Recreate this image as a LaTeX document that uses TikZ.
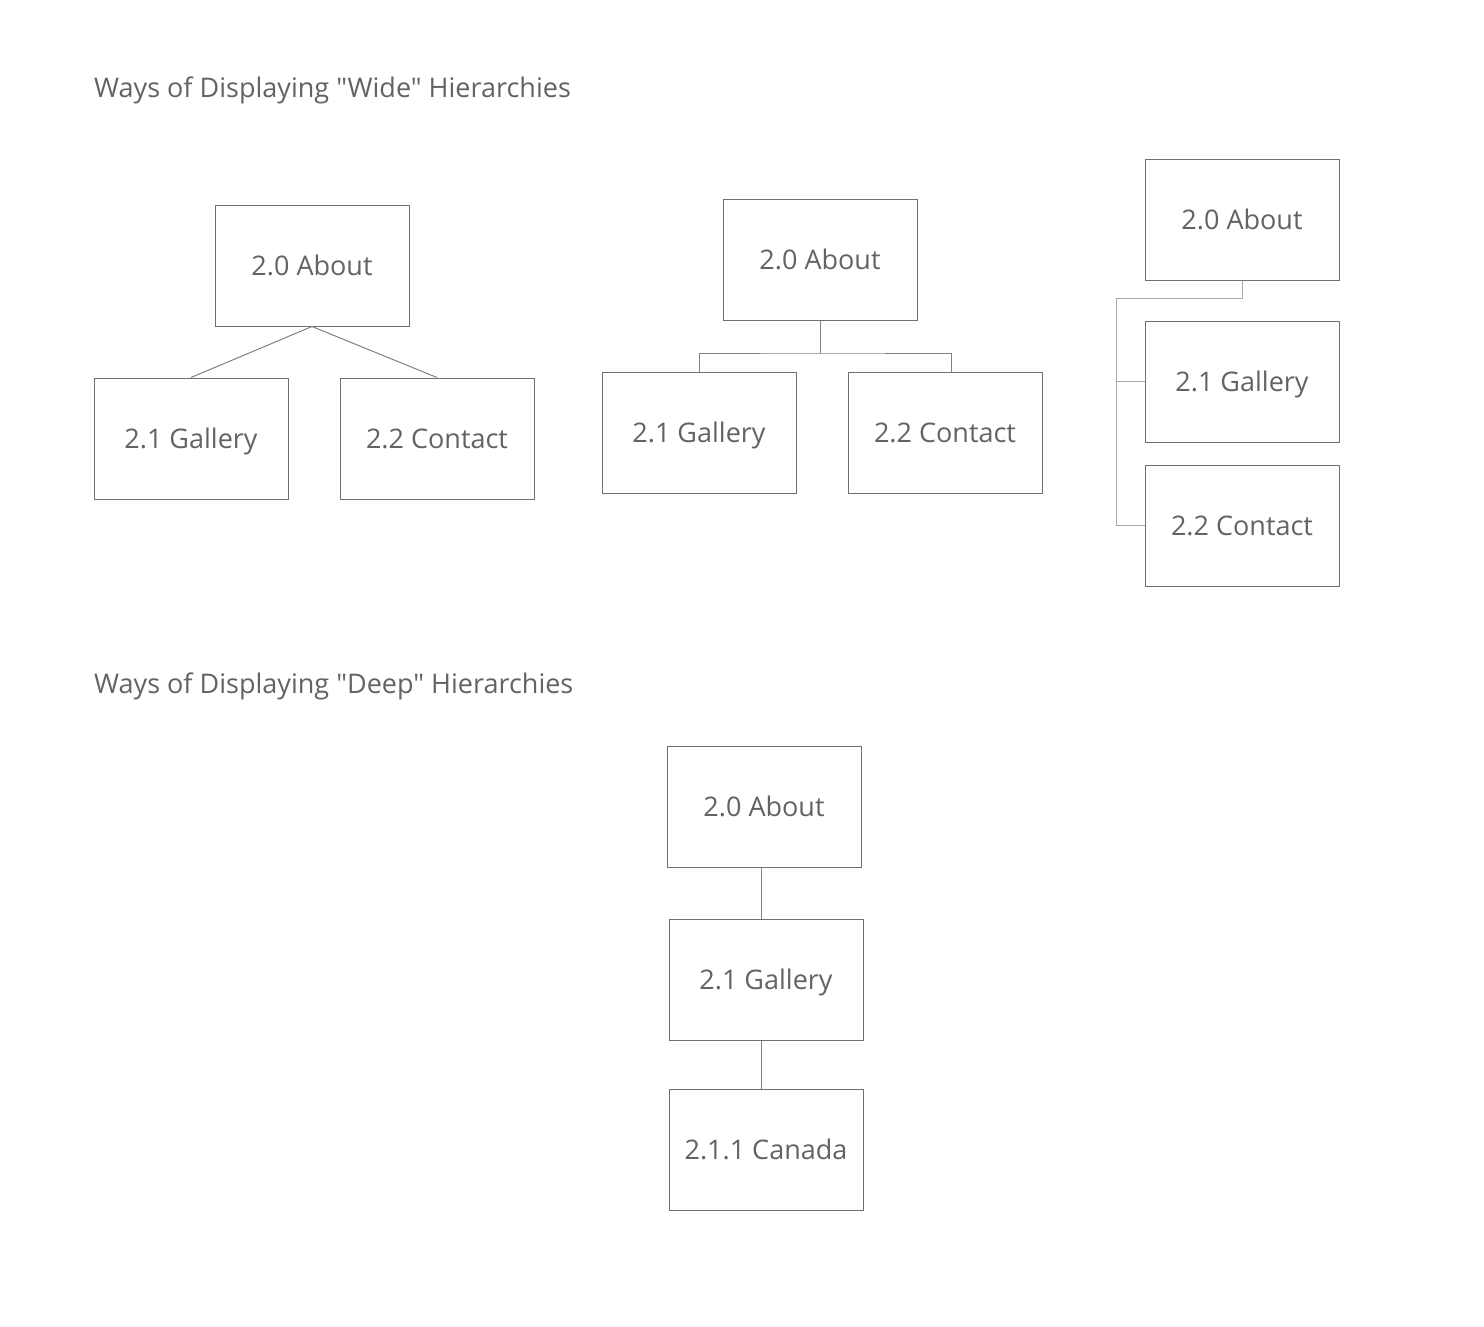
\documentclass[tikz,border=0pt]{standalone}
\usepackage{fontspec}
\setmainfont{Open Sans}[Ligatures=TeXOff]
\definecolor{boxgray}{HTML}{707070}
\definecolor{txtgray}{HTML}{636363}
\definecolor{linegray}{HTML}{808080}
\definecolor{lightline}{HTML}{A8A8A8}
\begin{document}
\begin{tikzpicture}[x=1pt,y=-1pt,
  box/.style={draw=boxgray,line width=1pt,minimum width=194pt,minimum height=121pt,
    inner sep=0pt,text=txtgray,font=\fontsize{27}{32}\selectfont,text height=19.5pt,text depth=0pt},
  ttl/.style={anchor=base west,inner sep=0pt,text=txtgray,font=\fontsize{27}{32}\selectfont},
  conn/.style={draw=linegray,line width=1pt},
  lconn/.style={draw=lightline,line width=1pt}]
\useasboundingbox[fill=white] (0,0) rectangle (1484,1326);
\node[ttl] (t1) at (94,97) {Ways of Displaying "Wide" Hierarchies};
\node[ttl] (t2) at (94,693) {Ways of Displaying "Deep" Hierarchies};
% wide 1
\node[box] (a1) at (312,265.5) {2.0 About};
\node[box] (g1) at (191,438.5) {2.1 Gallery};
\node[box] (c1) at (437,438.5) {2.2 Contact};
\draw[conn] (a1.south) -- (g1.north);
\draw[conn] (a1.south) -- (c1.north);
% wide 2
\node[box] (a2) at (820,259.5) {2.0 About};
\node[box] (g2) at (699,432.5) {2.1 Gallery};
\node[box] (c2) at (945,432.5) {2.2 Contact};
\coordinate (bus2) at (820,353);
\draw[conn] (a2.south) -- (bus2);
\draw[conn] (g2.north) |- (bus2) -| ([xshift=6pt]c2.north);
% wide 3
\node[box] (a3) at (1242,219.5) {2.0 About};
\node[box] (g3) at (1242,381.5) {2.1 Gallery};
\node[box] (c3) at (1242,525.5) {2.2 Contact};
\coordinate (spine) at (1116,298);
\draw[lconn] (a3.south) |- (spine) |- (g3.west);
\draw[lconn] (spine) |- (c3.west);
% deep
\node[box] (d1) at (764,806.5) {2.0 About};
\node[box] (d2) at (766,979.5) {2.1 Gallery};
\node[box] (d3) at (766,1149.5) {2.1.1 Canada};
\draw[conn] ([xshift=-3pt]d1.south) -- ([xshift=-3pt]d1.south |- d2.north);
\draw[conn] ([xshift=-5pt]d2.south) -- ([xshift=-5pt]d2.south |- d3.north);
\end{tikzpicture}
\end{document}
